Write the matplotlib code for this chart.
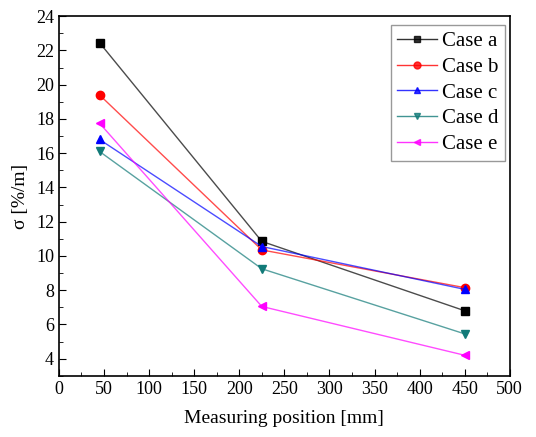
import numpy as np
import matplotlib.pyplot as plt
from matplotlib.ticker import MultipleLocator

plt.rcParams['font.family'] = ['Liberation Serif', 'DejaVu Serif']

positions = [45, 225, 450]
case_a = [22.45, 10.85, 6.8]
case_b = [19.4, 10.35, 8.15]
case_c = [16.8, 10.55, 8.05]
case_d = [16.1, 9.25, 5.45]
case_e = [17.75, 7.05, 4.2]

labels = ["Case a", "Case b", "Case c", "Case d", "Case e"]
series = [case_a, case_b, case_c, case_d, case_e]
colors = ["black", "red", "blue", "#117a78", "magenta"]
markers = ["s", "o", "^", "v", "<"]

fig = plt.figure(figsize=(5.36, 4.37), dpi=100)
ax = fig.add_axes([0.110, 0.140, 0.841, 0.823])

for vals, lab, c, m in zip(series, labels, colors, markers):
    ax.plot(positions, vals, color=c, lw=1.0, alpha=0.7)
    ax.plot(positions, vals, ls="none", marker=m, ms=6, color=c)
    # legend proxy
    ax.plot([], [], color=c, lw=1.0, marker=m, ms=5, label=lab)

ax.set_xlim(0, 500)
ax.set_ylim(3, 24)
ax.xaxis.set_major_locator(MultipleLocator(50))
ax.xaxis.set_minor_locator(MultipleLocator(25))
ax.yaxis.set_minor_locator(MultipleLocator(1))
ax.set_yticks(np.arange(4, 25, 2))
ax.tick_params(which="both", direction="in", top=False, right=False, labelsize=13)
ax.tick_params(which="major", length=5)
ax.tick_params(which="minor", length=3)
for s in ax.spines.values():
    s.set_linewidth(1.2)

ax.set_xlabel("Measuring position [mm]", fontsize=14, labelpad=9)
ax.set_ylabel("σ [%/m]", fontsize=14, labelpad=5)

leg = ax.legend(loc="upper right", bbox_to_anchor=(0.989, 0.975), borderaxespad=0,
                fontsize=15, fancybox=False, edgecolor="grey",
                handlelength=1.9, handletextpad=0.25, borderpad=0.3, labelspacing=0.3)
for h in leg.legend_handles:
    h.set_alpha(0.8)
leg.get_frame().set_linewidth(1.0)

fig.savefig("out.png", dpi=100)
